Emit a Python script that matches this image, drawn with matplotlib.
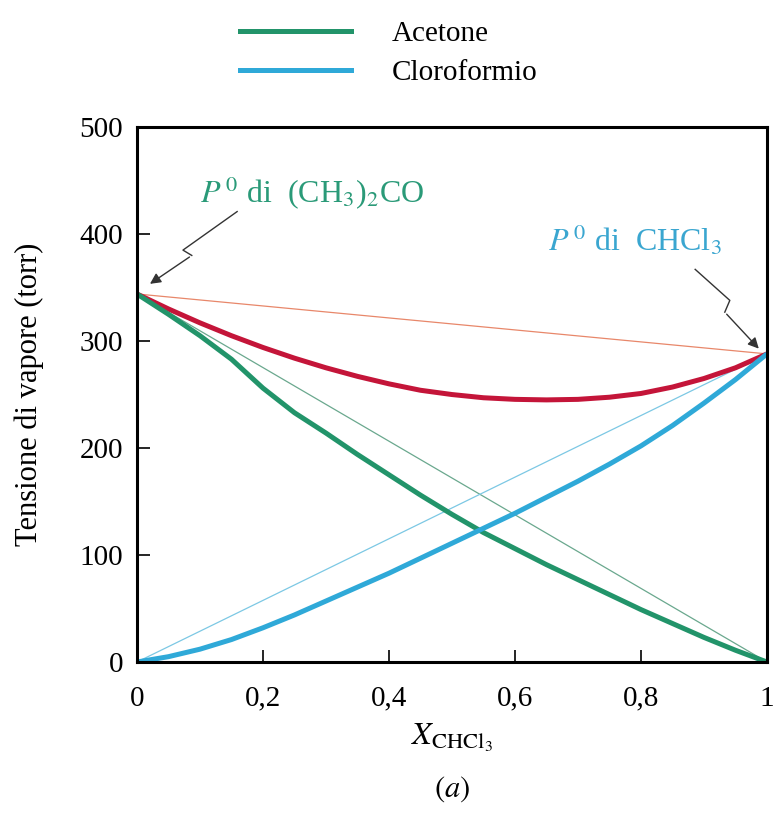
import matplotlib
matplotlib.use('Agg')
import matplotlib.pyplot as plt
from matplotlib.lines import Line2D

plt.rcParams['font.family'] = ['Liberation Serif', 'DejaVu Serif']
plt.rcParams['mathtext.fontset'] = 'stix'

# frazione molare di CHCl3
x_frac = [0, 0.05, 0.1, 0.15, 0.2, 0.25, 0.3, 0.35, 0.4, 0.45, 0.5,
          0.55, 0.6, 0.65, 0.7, 0.75, 0.8, 0.85, 0.9, 0.95, 1.0]
# tensioni parziali / totale (torr)
p_acetone = [344, 325, 305, 283, 256, 233, 214, 194, 175, 156, 138,
             121, 106, 91, 77, 63, 49, 36, 23, 11, 0]
p_cloroformio = [0, 5, 12, 21, 32, 44, 57, 70, 83, 97, 111,
                 125, 139, 154, 169, 185, 202, 221, 242, 264, 288]
p_totale = [344, 330, 317, 305, 294, 284, 275, 267, 260, 254, 250,
            247, 245.5, 245, 245.5, 247.5, 251, 257, 265, 275, 288]

p0_acetone = 344
p0_cloroformio = 288

x_ticks = [0, 0.2, 0.4, 0.6, 0.8, 1]
x_ticklabels = ['0', '0,2', '0,4', '0,6', '0,8', '1']
y_ticks = [0, 100, 200, 300, 400, 500]

GREEN = '#22946a'
BLUE = '#2fa9d8'
RED = '#c41539'

fig = plt.figure(figsize=(7.76, 8.15), dpi=100)
ax = fig.add_axes([0.1765, 0.1877, 0.8119, 0.6564])

# linee di Raoult (ideali)
ax.plot([0, 1], [p0_acetone, p0_cloroformio], color='#e8876a', lw=0.9)
ax.plot([0, 1], [p0_acetone, 0], color='#6aa88e', lw=0.9)
ax.plot([0, 1], [0, p0_cloroformio], color='#7cc8e4', lw=0.9)

# curve reali
ax.plot(x_frac, p_totale, color=RED, lw=3.6, solid_capstyle='butt')
ax.plot(x_frac, p_acetone, color=GREEN, lw=3.6, solid_capstyle='butt')
ax.plot(x_frac, p_cloroformio, color=BLUE, lw=3.6, solid_capstyle='butt')

ax.set_xlim(0, 1)
ax.set_ylim(0, 500)
ax.set_xticks(x_ticks)
ax.set_xticklabels(x_ticklabels)
ax.set_yticks(y_ticks)
ax.tick_params(direction='in', length=9, width=1.2, labelsize=21)
ax.tick_params(axis='x', pad=17)
ax.tick_params(axis='y', pad=10)
for s in ax.spines.values():
    s.set_linewidth(2.2)

ax.set_xlabel(r'$X_{\mathrm{CHCl_3}}$', fontsize=23)
ax.xaxis.set_label_coords(0.5, -0.112)
ax.set_ylabel('Tensione di vapore (torr)', fontsize=22)
ax.yaxis.set_label_coords(-0.148, 0.5)
fig.text(0.583, 0.032, r'$(a)$', ha='center', va='center', fontsize=22)

# frecce a zig-zag
zz_left = ([0.159, 0.073, 0.087, 0.017], [421, 385, 380, 352])
ax.plot(zz_left[0][:3], zz_left[1][:3], color='#333333', lw=1.0, clip_on=False)
ax.annotate('', xy=(zz_left[0][3], zz_left[1][3]), xytext=(zz_left[0][2], zz_left[1][2]),
            arrowprops=dict(arrowstyle='-|>', color='#333333', lw=1.0, mutation_scale=16))
zz_right = ([0.886, 0.941, 0.933, 0.99], [367, 338, 327, 291])
ax.plot(zz_right[0][:3], zz_right[1][:3], color='#333333', lw=1.0, clip_on=False)
ax.annotate('', xy=(zz_right[0][3], zz_right[1][3]), xytext=(zz_right[0][2], zz_right[1][2]),
            arrowprops=dict(arrowstyle='-|>', color='#333333', lw=1.0, mutation_scale=16))

ax.text(0.1, 438, r'$P^{\,0}$ di  (CH$_3$)$_2$CO', color='#2a9a78', fontsize=23,
        ha='left', va='center')
ax.text(0.652, 394, r'$P^{\,0}$ di  CHCl$_3$', color='#3aa6d0', fontsize=23,
        ha='left', va='center')

handles = [Line2D([], [], color=GREEN, lw=3.6), Line2D([], [], color=BLUE, lw=3.6)]
fig.legend(handles, ['Acetone', 'Cloroformio'], loc='upper left',
           bbox_to_anchor=(0.309, 0.975), frameon=False, fontsize=21,
           handlelength=3.8, handletextpad=1.4, labelspacing=0.45,
           borderpad=0, borderaxespad=0)

fig.savefig('out.png', dpi=100)
